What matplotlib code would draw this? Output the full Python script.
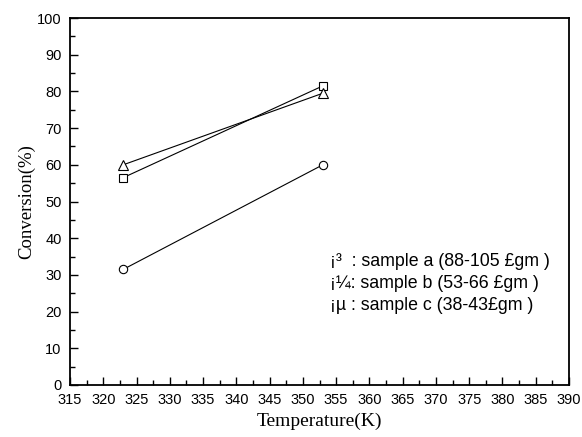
import matplotlib
matplotlib.use("Agg")
import matplotlib.pyplot as plt
from matplotlib.ticker import MultipleLocator

temperature = [323, 353]
sample_a = [56.5, 81.5]   # squares
sample_b = [60, 79.5]     # triangles
sample_c = [31.5, 60]     # circles

legend_lines = ["\u00a1\u00b3  : sample a (88-105 \u00a3gm )",
                "\u00a1\u00bc: sample b (53-66 \u00a3gm )",
                "\u00a1\u00b5 : sample c (38-43\u00a3gm )"]

fig = plt.figure(figsize=(5.82, 4.37), dpi=100)
ax = fig.add_axes([70/582, 1 - 385/437, 499/582, 367/437])

ax.plot(temperature, sample_a, color='black', lw=0.8, marker='s', ms=5.5,
        mfc='white', mec='black', mew=0.8)
ax.plot(temperature, sample_b, color='black', lw=0.8, marker='^', ms=6.5,
        mfc='white', mec='black', mew=0.8)
ax.plot(temperature, sample_c, color='black', lw=0.8, marker='o', ms=6,
        mfc='white', mec='black', mew=0.8)

ax.set_xlim(315, 390)
ax.set_ylim(0, 100)
ax.xaxis.set_major_locator(MultipleLocator(5))
ax.xaxis.set_minor_locator(MultipleLocator(2.5))
ax.yaxis.set_major_locator(MultipleLocator(10))
ax.yaxis.set_minor_locator(MultipleLocator(5))
ax.tick_params(which='both', direction='in', top=False, right=False,
               labelsize=10.5, width=1)
ax.tick_params(axis='x', pad=6)
ax.tick_params(axis='y', pad=6)
ax.tick_params(which='major', length=6)
ax.tick_params(which='minor', length=3.5)
for lab in ax.get_xticklabels() + ax.get_yticklabels():
    lab.set_family('Liberation Sans')
for sp in ax.spines.values():
    sp.set_linewidth(1.3)

ax.set_xlabel('Temperature(K)', family='Liberation Serif', fontsize=14, labelpad=4)
ax.set_ylabel('Conversion(%)', family='Liberation Serif', fontsize=13.5, labelpad=1)

for i, t in enumerate(legend_lines):
    ax.text(330/582, 1 - (261 + 22*i)/437, t, transform=fig.transFigure,
            family='Liberation Sans', fontsize=12.8, va='center', ha='left')

fig.savefig('out.png', dpi=100)
